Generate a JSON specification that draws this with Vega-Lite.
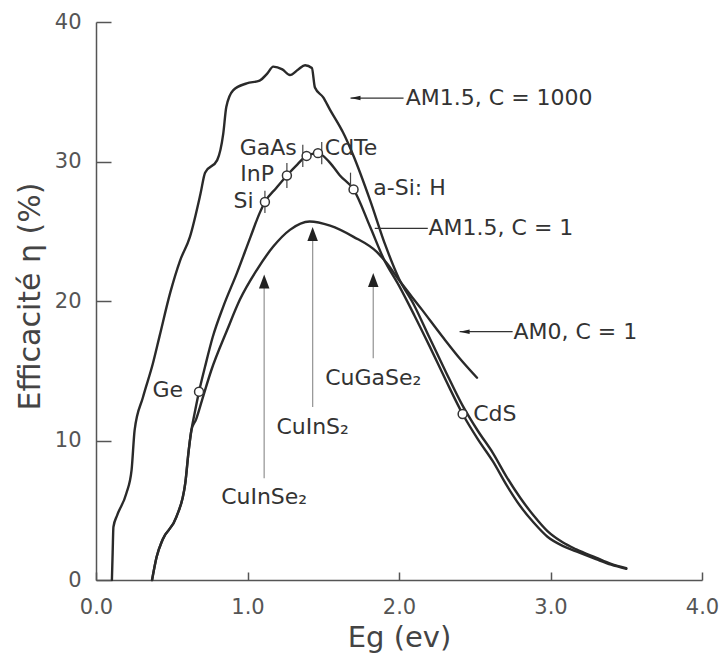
{
  "$schema": "https://vega.github.io/schema/vega-lite/v6.json",
  "autosize": "none",
  "width": 606,
  "height": 558,
  "padding": {"left": 96, "top": 22, "right": 21, "bottom": 75},
  "background": "white",
  "config": {"view": {"stroke": null}, "font": "DejaVu Sans"},
  "datasets": {
    "curves": [
      {"s": "C1000", "x": 0.105, "y": 0}, {"s": "C1000", "x": 0.11, "y": 2.0}, {"s": "C1000", "x": 0.115, "y": 3.8},
      {"s": "C1000", "x": 0.14, "y": 4.65}, {"s": "C1000", "x": 0.2, "y": 6.2}, {"s": "C1000", "x": 0.235, "y": 7.9},
      {"s": "C1000", "x": 0.255, "y": 10.75}, {"s": "C1000", "x": 0.31, "y": 13.1}, {"s": "C1000", "x": 0.375, "y": 15.5},
      {"s": "C1000", "x": 0.42, "y": 17.5}, {"s": "C1000", "x": 0.49, "y": 20.6}, {"s": "C1000", "x": 0.555, "y": 22.9},
      {"s": "C1000", "x": 0.62, "y": 24.6}, {"s": "C1000", "x": 0.69, "y": 27.7}, {"s": "C1000", "x": 0.72, "y": 29.2},
      {"s": "C1000", "x": 0.8, "y": 30.1}, {"s": "C1000", "x": 0.84, "y": 32.0}, {"s": "C1000", "x": 0.86, "y": 33.9},
      {"s": "C1000", "x": 0.905, "y": 35.1}, {"s": "C1000", "x": 0.995, "y": 35.6}, {"s": "C1000", "x": 1.08, "y": 35.8},
      {"s": "C1000", "x": 1.13, "y": 36.3}, {"s": "C1000", "x": 1.17, "y": 36.8}, {"s": "C1000", "x": 1.23, "y": 36.6},
      {"s": "C1000", "x": 1.28, "y": 36.2}, {"s": "C1000", "x": 1.335, "y": 36.6}, {"s": "C1000", "x": 1.38, "y": 36.9},
      {"s": "C1000", "x": 1.425, "y": 36.7}, {"s": "C1000", "x": 1.445, "y": 35.3}, {"s": "C1000", "x": 1.5, "y": 34.6},
      {"s": "C1000", "x": 1.545, "y": 33.7}, {"s": "C1000", "x": 1.61, "y": 32.5}, {"s": "C1000", "x": 1.63, "y": 32.1},
      {"s": "C1000", "x": 1.7, "y": 30.4}, {"s": "C1000", "x": 1.81, "y": 27.2}, {"s": "C1000", "x": 1.91, "y": 24.0},
      {"s": "C1000", "x": 2.0, "y": 21.6}, {"s": "C1000", "x": 2.1, "y": 19.7}, {"s": "C1000", "x": 2.2, "y": 17.4},
      {"s": "C1000", "x": 2.31, "y": 14.9}, {"s": "C1000", "x": 2.42, "y": 12.5}, {"s": "C1000", "x": 2.52, "y": 10.7},
      {"s": "C1000", "x": 2.62, "y": 9.1}, {"s": "C1000", "x": 2.71, "y": 7.4}, {"s": "C1000", "x": 2.8, "y": 5.9},
      {"s": "C1000", "x": 2.89, "y": 4.6}, {"s": "C1000", "x": 2.98, "y": 3.5}, {"s": "C1000", "x": 3.08, "y": 2.7},
      {"s": "C1000", "x": 3.17, "y": 2.2}, {"s": "C1000", "x": 3.3, "y": 1.6}, {"s": "C1000", "x": 3.4, "y": 1.15},
      {"s": "C1000", "x": 3.5, "y": 0.85},
      {"s": "C1", "x": 0.37, "y": 0}, {"s": "C1", "x": 0.4, "y": 1.65}, {"s": "C1", "x": 0.44, "y": 2.9},
      {"s": "C1", "x": 0.53, "y": 4.5}, {"s": "C1", "x": 0.59, "y": 7.0}, {"s": "C1", "x": 0.61, "y": 9.1},
      {"s": "C1", "x": 0.63, "y": 10.75}, {"s": "C1", "x": 0.65, "y": 11.9}, {"s": "C1", "x": 0.68, "y": 13.5},
      {"s": "C1", "x": 0.72, "y": 15.3}, {"s": "C1", "x": 0.77, "y": 17.4}, {"s": "C1", "x": 0.84, "y": 19.6},
      {"s": "C1", "x": 0.93, "y": 22.0}, {"s": "C1", "x": 1.02, "y": 24.6}, {"s": "C1", "x": 1.08, "y": 26.3},
      {"s": "C1", "x": 1.115, "y": 27.1}, {"s": "C1", "x": 1.19, "y": 28.1}, {"s": "C1", "x": 1.26, "y": 29.0},
      {"s": "C1", "x": 1.33, "y": 29.8}, {"s": "C1", "x": 1.39, "y": 30.4}, {"s": "C1", "x": 1.465, "y": 30.6},
      {"s": "C1", "x": 1.545, "y": 29.9}, {"s": "C1", "x": 1.61, "y": 29.0}, {"s": "C1", "x": 1.7, "y": 28.0},
      {"s": "C1", "x": 1.81, "y": 25.3}, {"s": "C1", "x": 1.9, "y": 23.0}, {"s": "C1", "x": 2.0, "y": 21.1},
      {"s": "C1", "x": 2.1, "y": 19.0}, {"s": "C1", "x": 2.2, "y": 16.8}, {"s": "C1", "x": 2.31, "y": 14.3},
      {"s": "C1", "x": 2.42, "y": 11.9}, {"s": "C1", "x": 2.52, "y": 10.1}, {"s": "C1", "x": 2.62, "y": 8.5},
      {"s": "C1", "x": 2.71, "y": 6.8}, {"s": "C1", "x": 2.8, "y": 5.3}, {"s": "C1", "x": 2.89, "y": 4.1},
      {"s": "C1", "x": 2.98, "y": 3.1}, {"s": "C1", "x": 3.08, "y": 2.45}, {"s": "C1", "x": 3.17, "y": 2.05},
      {"s": "C1", "x": 3.3, "y": 1.5}, {"s": "C1", "x": 3.4, "y": 1.1}, {"s": "C1", "x": 3.5, "y": 0.8},
      {"s": "AM0", "x": 0.37, "y": 0}, {"s": "AM0", "x": 0.4, "y": 1.65}, {"s": "AM0", "x": 0.44, "y": 2.9},
      {"s": "AM0", "x": 0.53, "y": 4.5}, {"s": "AM0", "x": 0.59, "y": 7.0}, {"s": "AM0", "x": 0.61, "y": 9.1},
      {"s": "AM0", "x": 0.63, "y": 10.75}, {"s": "AM0", "x": 0.66, "y": 11.5}, {"s": "AM0", "x": 0.7, "y": 12.9},
      {"s": "AM0", "x": 0.76, "y": 15.0}, {"s": "AM0", "x": 0.865, "y": 17.9}, {"s": "AM0", "x": 0.95, "y": 20.1},
      {"s": "AM0", "x": 1.06, "y": 22.2}, {"s": "AM0", "x": 1.17, "y": 23.9}, {"s": "AM0", "x": 1.28, "y": 25.1},
      {"s": "AM0", "x": 1.41, "y": 25.7}, {"s": "AM0", "x": 1.545, "y": 25.4}, {"s": "AM0", "x": 1.7, "y": 24.6},
      {"s": "AM0", "x": 1.855, "y": 23.5}, {"s": "AM0", "x": 1.92, "y": 22.7}, {"s": "AM0", "x": 2.0, "y": 21.5},
      {"s": "AM0", "x": 2.15, "y": 19.4}, {"s": "AM0", "x": 2.29, "y": 17.4}, {"s": "AM0", "x": 2.4, "y": 15.9},
      {"s": "AM0", "x": 2.515, "y": 14.5}
    ],
    "cells": [
      {"name": "Ge", "x": 0.68, "y": 13.5},
      {"name": "Si", "x": 1.115, "y": 27.1},
      {"name": "InP", "x": 1.26, "y": 29.0},
      {"name": "GaAs", "x": 1.39, "y": 30.4},
      {"name": "CdTe", "x": 1.465, "y": 30.6},
      {"name": "a-Si: H", "x": 1.7, "y": 28.0},
      {"name": "CdS", "x": 2.42, "y": 11.9}
    ],
    "errs": [
      {"x": 1.115, "lo": 26.3, "hi": 27.9},
      {"x": 1.26, "lo": 28.1, "hi": 29.9},
      {"x": 1.365, "lo": 29.6, "hi": 31.2},
      {"x": 1.49, "lo": 29.8, "hi": 31.4},
      {"x": 1.68, "lo": 28.0, "hi": 29.2}
    ],
    "arrows": [
      {"name": "CuInSe2", "x": 1.11, "lo": 7.3, "hi": 21.4},
      {"name": "CuInS2", "x": 1.43, "lo": 12.4, "hi": 24.8},
      {"name": "CuGaSe2", "x": 1.83, "lo": 15.9, "hi": 21.5}
    ],
    "leaders": [
      {"name": "AM1.5, C = 1000", "x": 1.68, "x2": 2.03, "y": 34.55, "head": true},
      {"name": "AM1.5, C = 1", "x": 1.84, "x2": 2.19, "y": 25.2, "head": false},
      {"name": "AM0, C = 1", "x": 2.4, "x2": 2.75, "y": 17.8, "head": true}
    ],
    "labels": [
      {"t": "AM1.5, C = 1000", "x": 2.045, "y": 34.55, "a": "left"},
      {"t": "AM1.5, C = 1", "x": 2.195, "y": 25.2, "a": "left"},
      {"t": "AM0, C = 1", "x": 2.755, "y": 17.8, "a": "left"},
      {"t": "a-Si: H", "x": 1.83, "y": 28.1, "a": "left"},
      {"t": "CdTe", "x": 1.51, "y": 31.0, "a": "left"},
      {"t": "CdS", "x": 2.49, "y": 11.9, "a": "left"},
      {"t": "GaAs", "x": 1.325, "y": 31.0, "a": "right"},
      {"t": "InP", "x": 1.175, "y": 29.1, "a": "right"},
      {"t": "Si", "x": 1.04, "y": 27.2, "a": "right"},
      {"t": "Ge", "x": 0.575, "y": 13.6, "a": "right"},
      {"t": "CuGaSe₂", "x": 1.83, "y": 14.5, "a": "center"},
      {"t": "CuInS₂", "x": 1.43, "y": 11.0, "a": "center"},
      {"t": "CuInSe₂", "x": 1.11, "y": 5.95, "a": "center"}
    ]
  },
  "layer": [
    {
      "data": {"name": "curves"},
      "mark": {"type": "line", "stroke": "#2a2a2a", "strokeWidth": 2.4, "strokeJoin": "round", "strokeCap": "round", "interpolate": "monotone"},
      "encoding": {
        "x": {
          "field": "x", "type": "quantitative",
          "scale": {"domain": [0, 4], "nice": false, "zero": false},
          "axis": {
            "title": "Eg (ev)", "values": [0, 1, 2, 3, 4], "format": ".1f", "grid": false,
            "tickSize": -8, "labelPadding": 24, "domainColor": "#555", "domainWidth": 1.5,
            "tickColor": "#555", "tickWidth": 1.5, "labelFontSize": 21, "labelColor": "#555",
            "labelFlush": false, "titleFontSize": 29, "titleColor": "#444", "titleFontWeight": "normal",
            "titleY": 57, "titleBaseline": "middle"
          }
        },
        "y": {
          "field": "y", "type": "quantitative",
          "scale": {"domain": [0, 40], "nice": false},
          "axis": {
            "title": "Efficacité η (%)", "values": [0, 10, 20, 30, 40], "grid": false,
            "tickSize": -15, "labelPadding": 30, "domainColor": "#555", "domainWidth": 1.5,
            "tickColor": "#555", "tickWidth": 1.5, "labelFontSize": 21, "labelColor": "#555",
            "labelFlush": false, "titleFontSize": 30, "titleColor": "#444", "titleFontWeight": "normal",
            "titleX": -66, "titleY": 274, "titleAlign": "center", "titleBaseline": "middle", "titleAngle": -90
          }
        },
        "detail": {"field": "s"}
      }
    },
    {
      "data": {"name": "arrows"},
      "mark": {"type": "rule", "stroke": "#9a9a9a", "strokeWidth": 1.3},
      "encoding": {
        "x": {"field": "x", "type": "quantitative"},
        "y": {"field": "lo", "type": "quantitative"},
        "y2": {"field": "hi"}
      }
    },
    {
      "data": {"name": "arrows"},
      "mark": {"type": "point", "shape": "M0,-1L0.75,1L-0.75,1Z", "size": 196, "filled": true, "fill": "#222", "opacity": 1, "strokeWidth": 0},
      "encoding": {
        "x": {"field": "x", "type": "quantitative"},
        "y": {"field": "hi", "type": "quantitative"}
      }
    },
    {
      "data": {"name": "leaders"},
      "mark": {"type": "rule", "stroke": "#333", "strokeWidth": 1.2},
      "encoding": {
        "x": {"field": "x", "type": "quantitative"},
        "x2": {"field": "x2"},
        "y": {"field": "y", "type": "quantitative"}
      }
    },
    {
      "data": {"name": "leaders"},
      "transform": [{"filter": "datum.head"}],
      "mark": {"type": "point", "shape": "M-1,0L1,-0.45L1,0.45Z", "size": 100, "filled": true, "fill": "#222", "opacity": 1, "strokeWidth": 0, "xOffset": 5},
      "encoding": {
        "x": {"field": "x", "type": "quantitative"},
        "y": {"field": "y", "type": "quantitative"}
      }
    },
    {
      "data": {"name": "errs"},
      "mark": {"type": "rule", "stroke": "#444", "strokeWidth": 1.2},
      "encoding": {
        "x": {"field": "x", "type": "quantitative"},
        "y": {"field": "lo", "type": "quantitative"},
        "y2": {"field": "hi"}
      }
    },
    {
      "data": {"name": "cells"},
      "mark": {"type": "point", "shape": "circle", "size": 80, "filled": false, "fill": "white", "fillOpacity": 1, "stroke": "#333", "strokeWidth": 1.5, "opacity": 1},
      "encoding": {
        "x": {"field": "x", "type": "quantitative"},
        "y": {"field": "y", "type": "quantitative"}
      }
    },
    {
      "data": {"name": "labels"},
      "transform": [{"filter": "datum.a === 'left'"}],
      "mark": {"type": "text", "fontSize": 22, "font": "DejaVu Sans", "fill": "#333", "baseline": "middle", "align": "left"},
      "encoding": {
        "x": {"field": "x", "type": "quantitative"},
        "y": {"field": "y", "type": "quantitative"},
        "text": {"field": "t"}
      }
    },
    {
      "data": {"name": "labels"},
      "transform": [{"filter": "datum.a === 'right'"}],
      "mark": {"type": "text", "fontSize": 22, "font": "DejaVu Sans", "fill": "#333", "baseline": "middle", "align": "right"},
      "encoding": {
        "x": {"field": "x", "type": "quantitative"},
        "y": {"field": "y", "type": "quantitative"},
        "text": {"field": "t"}
      }
    },
    {
      "data": {"name": "labels"},
      "transform": [{"filter": "datum.a === 'center'"}],
      "mark": {"type": "text", "fontSize": 22, "font": "DejaVu Sans", "fill": "#333", "baseline": "middle", "align": "center"},
      "encoding": {
        "x": {"field": "x", "type": "quantitative"},
        "y": {"field": "y", "type": "quantitative"},
        "text": {"field": "t"}
      }
    }
  ]
}
